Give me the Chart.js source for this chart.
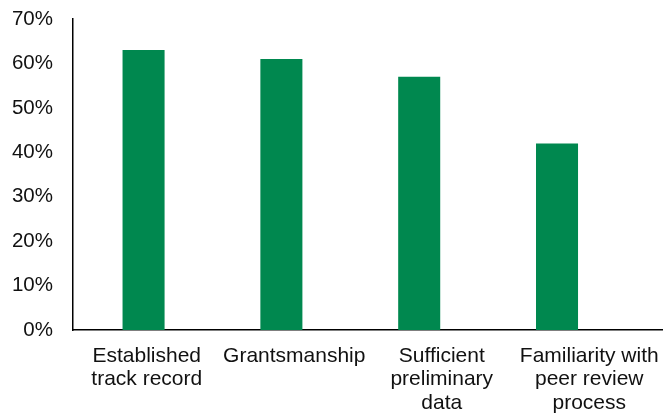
<!DOCTYPE html>
<html>
<head>
<meta charset="utf-8">
<script src="https://cdn.jsdelivr.net/npm/chart.js@4"></script>
<style>
html,body{margin:0;padding:0;background:#fff;}
#wrap{width:663px;height:417px;position:relative;}
</style>
</head>
<body>
<div id="wrap"><canvas id="c" width="663" height="417"></canvas></div>
<script>
const categories = [
  ["Established", "track record"],
  ["Grantsmanship"],
  ["Sufficient", "preliminary", "data"],
  ["Familiarity with", "peer review", "process"]
];
const values = [63, 61, 57, 42];
const yTicks = [0, 10, 20, 30, 40, 50, 60, 70];
const barColor = "#00884f";

new Chart(document.getElementById("c"), {
  type: "bar",
  data: {
    labels: categories,
    datasets: [{
      xAxisID: "xb",
      data: values.map((v, i) => ({ x: i, y: v })),
      backgroundColor: barColor,
      borderWidth: 0,
      categoryPercentage: 1,
      barPercentage: 0.61
    }]
  },
  options: {
    responsive: false,
    animation: false,
    layout: { padding: { top: 19, right: 0, bottom: 0, left: 0 } },
    plugins: { legend: { display: false }, tooltip: { enabled: false } },
    scales: {
      x: {
        type: "category",
        position: "bottom",
        grid: { display: false, drawTicks: false },
        border: { display: true, color: "#000", width: 1.5 },
        ticks: {
          color: "#111",
          font: { family: "'Liberation Sans', Arial, sans-serif", size: 21, lineHeight: 1.12 },
          padding: 14,
          maxRotation: 0,
          autoSkip: false
        },
        afterFit(s) { s.height = 87; s.paddingLeft = 0; s.paddingRight = 0; }
      },
      xb: {
        type: "linear",
        position: "bottom",
        display: false,
        min: -0.512,
        max: 3.769,
        offset: false
      },
      y: {
        min: 0,
        max: 70,
        grid: { display: false, drawTicks: false },
        border: { display: true, color: "#000", width: 1.5 },
        afterBuildTicks(s) { s.ticks = yTicks.map(v => ({ value: v })); },
        ticks: {
          color: "#111",
          font: { family: "'Liberation Sans', Arial, sans-serif", size: 20.5 },
          padding: 20,
          callback: v => v + "%"
        },
        afterFit(s) { s.width = 73; s.paddingTop = 0; s.paddingBottom = 0; }
      }
    }
  }
});
</script>
</body>
</html>
